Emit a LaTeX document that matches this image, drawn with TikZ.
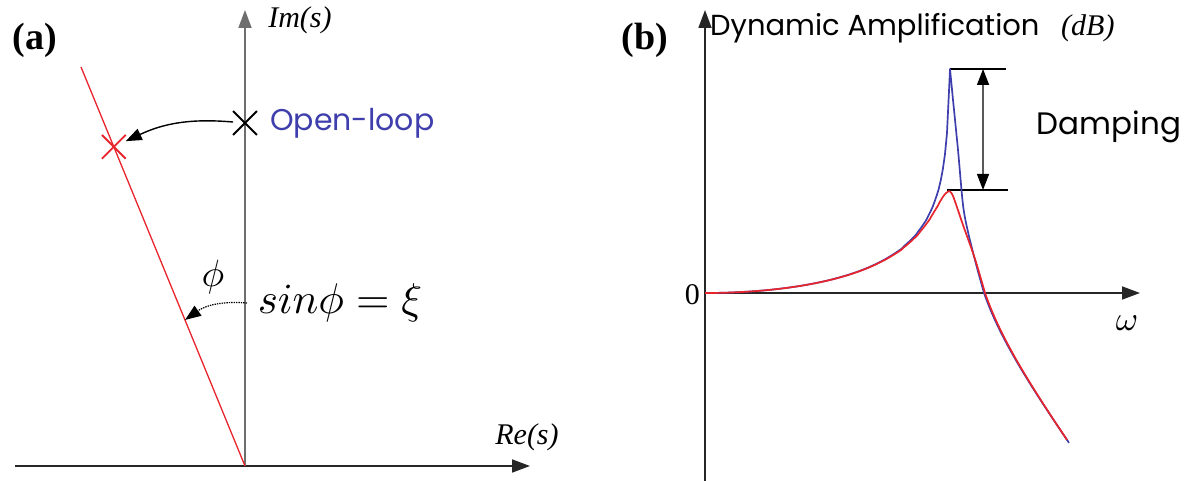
\documentclass[tikz,border=0pt]{standalone}
\usepackage{fontspec}
\setmainfont{Liberation Serif}
\newfontfamily\gothic{Poppins}
\usetikzlibrary{arrows.meta,shapes.misc}
\definecolor{axisgray}{RGB}{110,110,110}
\definecolor{polered}{RGB}{232,36,44}
\definecolor{loopblue}{RGB}{62,62,172}

\begin{document}
\begin{tikzpicture}[x=1pt,y=1pt,
        every node/.style={inner sep=0pt},
        axis/.style={line width=1.8pt,-{Triangle[length=18pt,width=13pt]}},
        arrow/.style={line width=1.4pt,-{Triangle[length=16pt,width=12pt]}},
        panel/.style={font=\fontsize{38}{42}\selectfont\bfseries},
        axlabel/.style={font=\fontsize{30}{34}\selectfont\itshape},
        sanslabel/.style={font=\fontsize{30}{34}\selectfont\gothic},
        mathlabel/.style={font=\fontsize{10}{12}\selectfont},
        pole/.style={cross out,draw,line width=1.8pt,minimum size=22pt},
        curve/.style={line width=1.7pt,line join=round}
    ]
    \useasboundingbox (0,0) rectangle (1188,481);
    % (a) s-plane
    \coordinate (re0) at (15,15);
    \coordinate (re1) at (530,15);
    \coordinate (o1) at (245,15);
    \coordinate (im1) at (245,471);
    \coordinate (rtop) at (81,414);
    \draw[axis,black!85] (re0) -- (re1);
    \draw[axis,axisgray] (o1) -- (im1);
    \draw[polered,line width=1.3pt] (o1) -- coordinate[pos=0.366] (hit)
        coordinate[pos=0.8] (cl) (rtop);
    \node[pole,polered] (clx) at (cl) {};
    \node[pole,black] (olx) at (245,358) {};
    \node[sanslabel,loopblue,anchor=west] (oltext) at (270,358) {Open-loop};
    \draw[arrow] (olx) to[bend right=15] (clx);
    \node[axlabel] (ims) at (300,461) {Im(s)};
    \node[axlabel] (res) at (527,44) {Re(s)};
    \node[panel] (pa) at (35,441) {(a)};
    \node[mathlabel,scale=3.8] (phi) at (213,204) {$\phi$};
    \node[mathlabel,scale=4.3,anchor=west,inner xsep=2.3pt]
        (sin) at (247,178) {$sin\phi=\xi$};
    \draw[arrow,densely dotted,line width=1.2pt] (sin.west) to[bend right=20] (hit);

    % (b) amplification
    \coordinate (amp0) at (705,0);
    \coordinate (amp1) at (705,471);
    \coordinate (o2) at (705,188);
    \coordinate (w1) at (1140,188);
    \draw[axis,black!85] (amp0) -- (amp1);
    \draw[axis,black!85] (o2) -- (w1);
    \node[font=\fontsize{30}{34}\selectfont,anchor=east] (zero) at (700,186) {0};
    \node[mathlabel,scale=3.4] (omega) at (1127,158) {$\omega$};
    \node[font=\fontsize{29}{33}\selectfont\gothic,anchor=west] (amp) at (710,453)
        {Dynamic Amplification};
    \node[axlabel,anchor=west] (dbunit) at (1061,453) {(dB)};
    \node[panel] (pb) at (645,441) {(b)};
    \coordinate (pkb) at (950,412);
    \coordinate (tb) at (1006,412);
    \coordinate (pkr) at (947,291);
    \coordinate (tr) at (1008,291);
    \draw[line width=1.2pt] (pkb) -- coordinate[pos=0.59] (dtop) (tb);
    \draw[line width=1.2pt] (pkr) -- coordinate[pos=0.59] (dbot) (tr);
    \draw[arrow,{Triangle[length=16pt,width=12pt]}-{Triangle[length=16pt,width=12pt]}]
        (dtop) -- (dbot);
    \node[font=\fontsize{31}{35}\selectfont\gothic] (damp) at (1109,354) {Damping};
    % open-loop and closed-loop curves
    \draw[curve,loopblue] plot[domain=705:949,samples=120]
        (\x,{188-50*log10(((1-((\x-705)/245)^2)^2+(0.006*(\x-705)/245)^2))})
        -- (pkb) -- plot[smooth,tension=0.5] coordinates {(953,381) (958,331)
        (963,276) (968,249) (976,217) (984,188)}
        -- plot[domain=984:1069,samples=40]
        (\x,{188-100*log10((1.4142*exp(0.0164*(\x-984)))^2-1)});
    \draw[curve,polered] plot[domain=705:946,samples=120]
        (\x,{188-50*log10(((1-((\x-705)/245)^2)^2+(0.096*(\x-705)/245)^2))})
        -- plot[smooth,tension=0.5] coordinates {(949,290) (953,285) (963,256)
        (975,222) (985,188)}
        -- plot[domain=985:1067,samples=40]
        (\x,{188-100*log10((1.4142*exp(0.0166*(\x-985)))^2-1)});
\end{tikzpicture}
\end{document}
